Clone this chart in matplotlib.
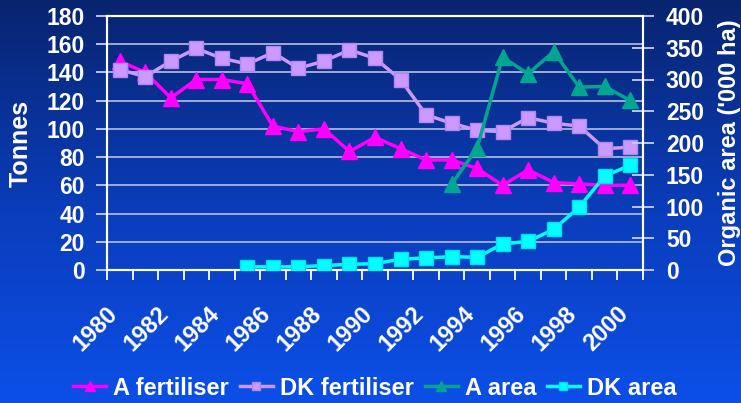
import numpy as np
import matplotlib
matplotlib.use("Agg")
import matplotlib.pyplot as plt
import matplotlib.transforms as mtransforms
from matplotlib.colors import LinearSegmentedColormap

nan = np.nan

# data
years = list(range(1980, 2001))
a_fertiliser = [148, 140, 122, 135, 135, 132, 102, 98, 100, 84, 94, 86, 78, 78, 72, 60, 71, 62, 61, 60, 60]
dk_fertiliser = [142, 137, 148, 157, 150, 146, 154, 143, 148, 156, 150, 135, 110, 104, 99, 98, 108, 104, 102, 86, 87]
a_area = [nan] * 13 + [135, 192, 335, 309, 344, 288, 289, 267]
dk_area = [nan] * 5 + [5, 5, 5, 7, 9, 10, 17, 19, 21, 20, 41, 45, 64, 99, 148, 165]

plt.rcParams['font.family'] = ['Liberation Sans', 'DejaVu Sans']
plt.rcParams['font.weight'] = 'bold'

fig = plt.figure(figsize=(7.41, 4.03), dpi=100)

# background gradient
bg = fig.add_axes([0, 0, 1, 1], zorder=-10)
cmap = LinearSegmentedColormap.from_list('bg', ['#08246f', '#0a3cb8', '#0c4fe8'])
bg.imshow(np.linspace(0, 1, 256).reshape(-1, 1), aspect='auto', cmap=cmap,
          extent=[0, 1, 0, 1])
bg.axis('off')

ax = fig.add_axes([107 / 741, 133 / 403, 536 / 741, 254 / 403])
ax.set_facecolor('none')
ax2 = ax.twinx()
ax2.set_facecolor('none')

x = np.arange(len(years))

l1, = ax.plot(x, a_fertiliser, color='#ff00ff', lw=2.5, marker='^', ms=11,
              mec='#ff00ff', label='A fertiliser', zorder=4)
l2, = ax.plot(x, dk_fertiliser, color='#cc99ff', lw=2.5, marker='s', ms=9.5,
              mec='#b088ee', label='DK fertiliser', zorder=4)
l3, = ax2.plot(x, a_area, color='#00a690', lw=2.5, marker='^', ms=11,
               mec='#00a690', label='A area', zorder=4)
l4, = ax2.plot(x, dk_area, color='#00ffff', lw=2.5, marker='s', ms=9.5,
               mec='#00e0f0', label='DK area', zorder=4)

ax.set_xlim(-0.5, len(years) - 0.5)
ax.set_ylim(0, 180)
ax2.set_ylim(0, 400)
ax.set_yticks(range(0, 181, 20))
ax2.set_yticks(range(0, 401, 50))
ax.yaxis.grid(True, color='#aab4dc', lw=1.3)
ax.set_axisbelow(True)

for a in (ax, ax2):
    for s in a.spines.values():
        s.set_color('white')
        s.set_linewidth(1.5)

# x ticks: marks at category boundaries, labels every other year
ax.set_xticks(np.arange(-0.5, len(years)), minor=True)
ax.set_xticks(x[::2])
ax.set_xticklabels([str(y) for y in years[::2]], rotation=45, ha='right',
                   va='top', rotation_mode='anchor', fontsize=17,
                   fontweight='bold', color='white')
ax.tick_params(axis='x', which='minor', length=7, width=1.3, color='white')
ax.tick_params(axis='x', which='major', length=0, pad=23)
shift = mtransforms.ScaledTranslation(-14 / 100, 0, fig.dpi_scale_trans)
for lab in ax.get_xticklabels():
    lab.set_transform(lab.get_transform() + shift)

ax.tick_params(axis='y', length=8, width=1.3, color='#c8cee8', labelsize=16.5,
               labelcolor='white', pad=8)
ax2.tick_params(axis='y', direction='inout', length=16, width=1.3,
                color='#c8cee8', labelsize=16.5, labelcolor='white', pad=8.5)
for lab in ax.get_yticklabels() + ax2.get_yticklabels():
    lab.set_fontweight('bold')

ax.set_ylabel('Tonnes', color='white', fontsize=18, fontweight='bold', labelpad=10)
ax2.set_ylabel("Organic area ('000 ha)", color='white', fontsize=17,
               fontweight='bold', labelpad=10)

leg = fig.legend(handles=[l1, l2, l3, l4], loc='center', ncol=4,
                 bbox_to_anchor=(0.506, 0.037), frameon=False,
                 prop={'size': 17, 'weight': 'bold'}, handlelength=1.4,
                 handletextpad=0.3, columnspacing=0.45, markerscale=0.6)
for t in leg.get_texts():
    t.set_color('white')

fig.savefig('out.png', dpi=100)
